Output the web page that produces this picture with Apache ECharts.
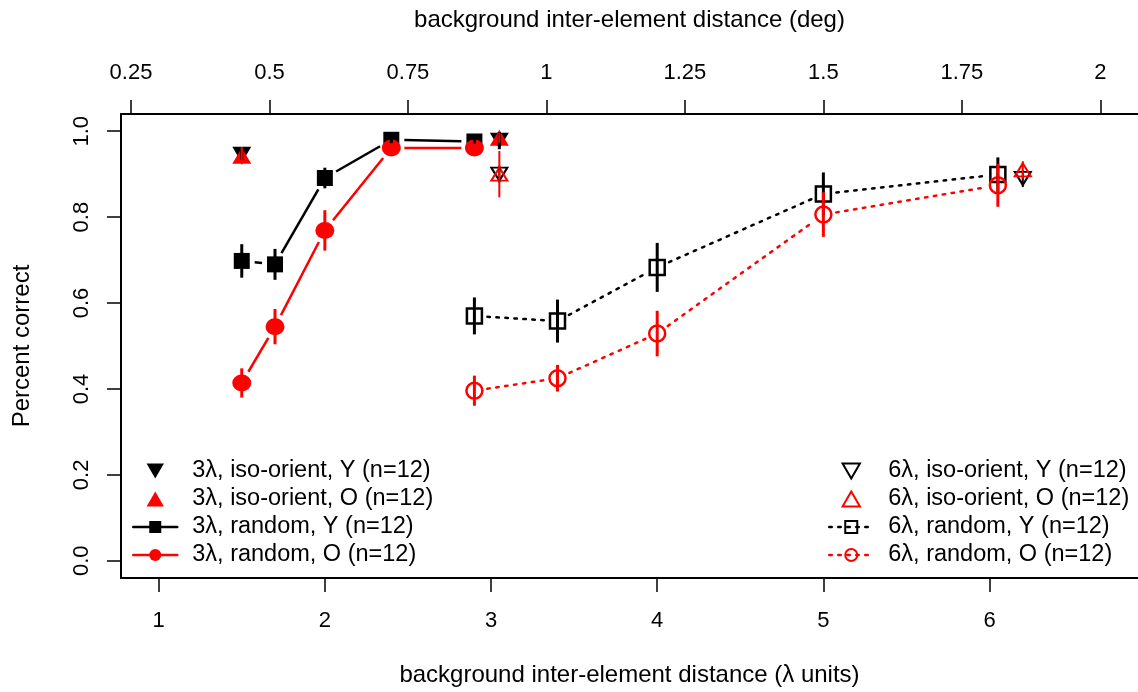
<!DOCTYPE html>
<html><head><meta charset="utf-8">
<script src="https://cdn.jsdelivr.net/npm/echarts@6/dist/echarts.min.js"></script>
<style>html,body{margin:0;padding:0;background:#fff}#c{width:1138px;height:692px}</style>
</head><body><div id="c"></div>
<script>
// ---- tick labels ----
const lambdaTicks = [1, 2, 3, 4, 5, 6];
const degTicks = [0.25, 0.5, 0.75, 1, 1.25, 1.5, 1.75, 2];
const yTicks = [0, 0.2, 0.4, 0.6, 0.8, 1.0];
const degPerLambda = 0.3;

// ---- series names ----
const names3 = ['3λ, iso-orient, Y (n=12)', '3λ, iso-orient, O (n=12)', '3λ, random, Y (n=12)', '3λ, random, O (n=12)'];
const names6 = ['6λ, iso-orient, Y (n=12)', '6λ, iso-orient, O (n=12)', '6λ, random, Y (n=12)', '6λ, random, O (n=12)'];

// ---- 3λ random ----
const xRand3 = [1.5, 1.7, 2.0, 2.4, 2.9];
const rand3Y = [0.698, 0.690, 0.891, 0.980, 0.976];
const rand3YErr = [0.039, 0.036, 0.024, 0.008, 0.008];
const rand3O = [0.414, 0.545, 0.769, 0.961, 0.961];
const rand3OErr = [0.034, 0.041, 0.047, 0.010, 0.010];

// ---- 3λ iso-orient ----
const xIso3 = [1.5, 3.05];
const iso3Y = [0.945, 0.978];
const iso3YErr = [0.012, 0.02];
const iso3O = [0.943, 0.985];
const iso3OErr = [0.02, 0.012];

// ---- 6λ iso-orient ----
const xIso6 = [3.05, 6.2];
const iso6Y = [0.900, 0.890];
const iso6YErr = [0.02, 0.02];
const iso6O = [0.900, 0.910];
const iso6OErr = [0.054, 0.02];

// ---- 6λ random ----
const xRand6 = [2.9, 3.4, 4.0, 5.0, 6.05];
const rand6Y = [0.570, 0.558, 0.683, 0.854, 0.899];
const rand6YErr = [0.043, 0.050, 0.057, 0.050, 0.040];
const rand6O = [0.396, 0.425, 0.529, 0.806, 0.874];
const rand6OErr = [0.035, 0.031, 0.053, 0.052, 0.050];

const FONT = '"Liberation Sans", Arial, sans-serif';
const xMin = 0.7733, xMax = 6.8933;
const DOWN = 'path://M0,0L2,0L1,1.732Z';
const UP = 'path://M1,0L2,1.732L0,1.732Z';
const GAP = 13; // px gap between line segment ends and point centres (R type="b")

function pairs(xs, ys) { return xs.map((x, i) => [x, ys[i]]); }
function errSeries(xs, ys, es, color, width) {
  return {
    type: 'custom', silent: true, z: 3,
    data: xs.map((x, i) => [x, ys[i] - es[i], ys[i] + es[i]]),
    encode: { x: 0, y: [1, 2] },
    renderItem(params, api) {
      const p1 = api.coord([api.value(0), api.value(1)]);
      const p2 = api.coord([api.value(0), api.value(2)]);
      return { type: 'line', shape: { x1: p1[0], y1: p1[1], x2: p2[0], y2: p2[1] },
        style: { stroke: color, lineWidth: width } };
    }
  };
}
function segSeries(xs, ys, style) {
  const data = [];
  for (let i = 0; i + 1 < xs.length; i++) data.push([xs[i], ys[i], xs[i + 1], ys[i + 1]]);
  return {
    type: 'custom', silent: true, z: 1, data: data,
    encode: { x: [0, 2], y: [1, 3] },
    renderItem(params, api) {
      const a = api.coord([api.value(0), api.value(1)]);
      const b = api.coord([api.value(2), api.value(3)]);
      const dx = b[0] - a[0], dy = b[1] - a[1];
      const L = Math.sqrt(dx * dx + dy * dy);
      if (L <= 2 * GAP) return null;
      const ux = dx / L, uy = dy / L;
      return { type: 'line',
        shape: { x1: a[0] + ux * GAP, y1: a[1] + uy * GAP, x2: b[0] - ux * GAP, y2: b[1] - uy * GAP },
        style: Object.assign({ fill: null }, style) };
    }
  };
}
const dotted = [2.5, 6.5];
const hiddenLine = { opacity: 0 };
const styleRand6Y = { stroke: '#000', lineWidth: 2.5, lineDash: dotted, lineCap: 'round' };
const styleRand6O = { stroke: '#f00', lineWidth: 2.5, lineDash: dotted, lineCap: 'round' };
const styleRand3Y = { stroke: '#000', lineWidth: 2.5 };
const styleRand3O = { stroke: '#f00', lineWidth: 2.5 };

const series = [
  // 6λ random Y
  segSeries(xRand6, rand6Y, styleRand6Y),
  { name: names6[2], type: 'line', data: pairs(xRand6, rand6Y), symbol: 'rect', symbolSize: 15,
    lineStyle: hiddenLine,
    itemStyle: { color: 'rgba(255,255,255,0)', borderColor: '#000', borderWidth: 2.5 }, z: 2 },
  errSeries(xRand6, rand6Y, rand6YErr, '#000', 3),
  // 6λ random O
  segSeries(xRand6, rand6O, styleRand6O),
  { name: names6[3], type: 'line', data: pairs(xRand6, rand6O), symbol: 'circle', symbolSize: 16,
    lineStyle: hiddenLine,
    itemStyle: { color: 'rgba(255,255,255,0)', borderColor: '#f00', borderWidth: 2.5 }, z: 2 },
  errSeries(xRand6, rand6O, rand6OErr, '#f00', 3),
  // 3λ random Y
  segSeries(xRand3, rand3Y, styleRand3Y),
  { name: names3[2], type: 'line', data: pairs(xRand3, rand3Y), symbol: 'rect', symbolSize: 16,
    lineStyle: hiddenLine, itemStyle: { color: '#000' }, z: 2 },
  errSeries(xRand3, rand3Y, rand3YErr, '#000', 3),
  // 3λ random O
  segSeries(xRand3, rand3O, styleRand3O),
  { name: names3[3], type: 'line', data: pairs(xRand3, rand3O), symbol: 'circle', symbolSize: [19, 17],
    lineStyle: hiddenLine, itemStyle: { color: '#f00' }, z: 2 },
  errSeries(xRand3, rand3O, rand3OErr, '#f00', 3),
  // 3λ iso Y
  { name: names3[0], type: 'scatter', data: pairs(xIso3, iso3Y), symbol: DOWN, symbolSize: [19, 16],
    itemStyle: { color: '#000', opacity: 1 }, z: 2 },
  errSeries(xIso3, iso3Y, iso3YErr, '#000', 3),
  // 3λ iso O
  { name: names3[1], type: 'scatter', data: pairs(xIso3, iso3O), symbol: UP, symbolSize: [19, 16],
    itemStyle: { color: '#f00', opacity: 1 }, z: 2 },
  errSeries(xIso3, iso3O, iso3OErr, '#f00', 2),
  // 6λ iso Y
  { name: names6[0], type: 'scatter', data: pairs(xIso6, iso6Y), symbol: DOWN, symbolSize: [16, 13],
    itemStyle: { color: 'rgba(255,255,255,0)', borderColor: '#000', borderWidth: 2, opacity: 1 }, z: 2 },
  errSeries(xIso6, iso6Y, iso6YErr, '#000', 2),
  // 6λ iso O
  { name: names6[1], type: 'scatter', data: pairs(xIso6, iso6O), symbol: UP, symbolSize: [16, 13],
    itemStyle: { color: 'rgba(255,255,255,0)', borderColor: '#f00', borderWidth: 2, opacity: 1 }, z: 2 },
  errSeries(xIso6, iso6O, iso6OErr, '#f00', 2)
];

function legendLine(color, dashed) {
  return { color: color, width: 2.5, opacity: 1, type: dashed ? dotted : 'solid', cap: 'round' };
}
const legend3 = [
  { name: names3[0] }, { name: names3[1] },
  { name: names3[2], lineStyle: legendLine('#000', false) },
  { name: names3[3], lineStyle: legendLine('#f00', false) }
];
const legend6 = [
  { name: names6[0] }, { name: names6[1] },
  { name: names6[2], lineStyle: legendLine('#000', true) },
  { name: names6[3], lineStyle: legendLine('#f00', true) }
];

const tickTxt = { fontFamily: FONT, fontSize: 22, color: '#000' };
const titleTxt = { fontFamily: FONT, fontSize: 24, color: '#000' };
const legendBase = {
  orient: 'vertical', itemWidth: 44, itemHeight: 15, itemGap: 4, selectedMode: false,
  textStyle: { fontFamily: FONT, fontSize: 23.5, color: '#000', lineHeight: 24, padding: [0, 0, 0, 10] }
};
const axisCommon = {
  type: 'value', splitLine: { show: false },
  axisLine: { show: true, onZero: false, lineStyle: { color: '#000', width: 2 } },
  nameLocation: 'middle', nameTextStyle: titleTxt
};

const option = {
  backgroundColor: '#fff',
  animation: false,
  grid: { left: 121, top: 114, width: 1019, height: 464.3 },
  legend: [
    Object.assign({}, legendBase, { left: 127, top: 454, data: legend3 }),
    Object.assign({}, legendBase, { left: 823, top: 454, data: legend6 })
  ],
  xAxis: [
    Object.assign({}, axisCommon, {
      position: 'bottom', min: xMin, max: xMax,
      axisTick: { show: true, length: 14, customValues: lambdaTicks, lineStyle: { color: '#000', width: 1.5 } },
      axisLabel: Object.assign({}, tickTxt, { customValues: lambdaTicks, margin: 32 }),
      name: 'background inter-element distance (λ units)', nameGap: 85
    }),
    Object.assign({}, axisCommon, {
      position: 'top', min: xMin * degPerLambda, max: xMax * degPerLambda,
      axisTick: { show: true, length: 14, customValues: degTicks, lineStyle: { color: '#000', width: 1.5 } },
      axisLabel: Object.assign({}, tickTxt, { customValues: degTicks, margin: 30 }),
      name: 'background inter-element distance (deg)', nameGap: 82
    })
  ],
  yAxis: Object.assign({}, axisCommon, {
    min: -0.04, max: 1.04,
    axisTick: { show: true, length: 14, customValues: yTicks, lineStyle: { color: '#000', width: 1.5 } },
    axisLabel: Object.assign({}, tickTxt, { customValues: yTicks, rotate: 90, margin: 28, formatter: v => v.toFixed(1) }),
    name: 'Percent correct', nameGap: 87
  }),
  series: series
};
const chart = echarts.init(document.getElementById('c'), null, { renderer: 'canvas' });
chart.setOption(option);
</script></body></html>
